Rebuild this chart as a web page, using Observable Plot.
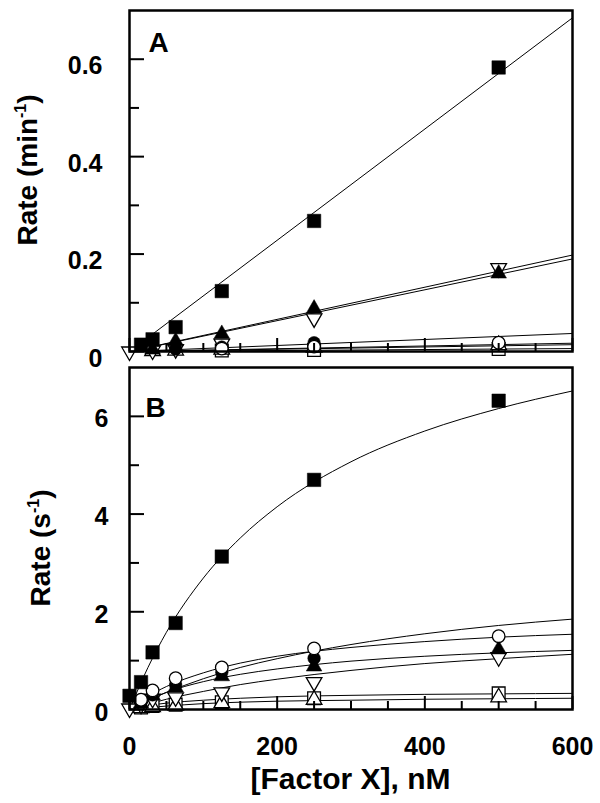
<!DOCTYPE html>
<html><head><meta charset="utf-8">
<script src="https://cdn.jsdelivr.net/npm/d3@7"></script>
<script src="https://cdn.jsdelivr.net/npm/@observablehq/plot@0.6"></script>
<style>
body{margin:0;background:#fff;}
#chart{position:relative;width:600px;height:803px;background:#fff;}
#chart svg{display:block;position:absolute;left:0;}
</style></head><body><div id="chart"></div>
<script>
// ---------- Panel A data (rate, min^-1) ----------
const A_filledSquare_x = [15.6, 31.25, 62.5, 125, 250, 500];
const A_filledSquare_y = [0.014, 0.025, 0.050, 0.124, 0.268, 0.583];
const A_filledTri_x = [31.25, 62.5, 125, 250, 500];
const A_filledTri_y = [0.004, 0.021, 0.036, 0.088, 0.160];
const A_openTriDown_x = [0, 31.25, 62.5, 125, 250, 500];
const A_openTriDown_y = [0.0, 0.002, 0.005, 0.016, 0.068, 0.171];
const A_filledCircle_x = [62.5, 125, 250];
const A_filledCircle_y = [0.005, 0.009, 0.018];
const A_openCircle_x = [125, 250, 500];
const A_openCircle_y = [0.006, 0.010, 0.018];
const A_openTriUp_x = [31.25, 62.5, 125, 250, 500];
const A_openTriUp_y = [0.001, 0.002, 0.004, 0.008, 0.013];
const A_openSquare_x = [125, 250, 500];
const A_openSquare_y = [0.002, 0.003, 0.005];

// fitted straight lines (read at x = 0 and x = 600)
const A_fit_x = [0, 600];
const A_fit_filledSquare = [0, 0.685];
const A_fit_filledTri = [0, 0.190];
const A_fit_openTriDown = [0, 0.198];
const A_fit_filledCircle = [0, 0.037];
const A_fit_openCircle = [0, 0.017];
const A_fit_openTriUp = [0, 0.014];
const A_fit_openSquare = [0, 0.006];

// ---------- Panel B data (rate, s^-1) ----------
const B_filledSquare_x = [0, 15.6, 31.25, 62.5, 125, 250, 500];
const B_filledSquare_y = [0.28, 0.56, 1.17, 1.77, 3.13, 4.70, 6.32];
const B_openCircle_x = [15.6, 31.25, 62.5, 125, 250, 500];
const B_openCircle_y = [0.20, 0.39, 0.64, 0.86, 1.25, 1.50];
const B_filledCircle_x = [31.25, 62.5, 125, 250];
const B_filledCircle_y = [0.30, 0.50, 0.76, 1.05];
const B_filledTri_x = [15.6, 31.25, 62.5, 125, 250, 500];
const B_filledTri_y = [0.12, 0.29, 0.45, 0.68, 0.88, 1.23];
const B_openTriDown_x = [0, 15.6, 31.25, 62.5, 125, 250, 500];
const B_openTriDown_y = [0.02, 0.10, 0.22, 0.25, 0.35, 0.56, 1.07];
const B_openSquare_x = [15.6, 31.25, 62.5, 125, 250, 500];
const B_openSquare_y = [0.04, 0.07, 0.10, 0.15, 0.23, 0.33];
const B_openTriUp_x = [15.6, 31.25, 62.5, 125, 250, 500];
const B_openTriUp_y = [0.03, 0.05, 0.08, 0.13, 0.20, 0.25];

// fitted curves at these x values
const B_fit_x = [0, 25, 50, 100, 150, 200, 300, 400, 500, 600];
const B_fit_filledSquare = [0, 0.86, 1.58, 2.69, 3.51, 4.15, 5.07, 5.70, 6.16, 6.52];
const B_fit_filledCircle = [0, 0.19, 0.35, 0.63, 0.86, 1.04, 1.33, 1.55, 1.72, 1.85];
const B_fit_openCircle = [0, 0.27, 0.47, 0.75, 0.95, 1.09, 1.27, 1.39, 1.48, 1.54];
const B_fit_filledTri = [0, 0.19, 0.35, 0.57, 0.72, 0.83, 0.99, 1.09, 1.16, 1.21];
const B_fit_openTriDown = [0, 0.11, 0.21, 0.37, 0.51, 0.62, 0.80, 0.94, 1.04, 1.13];
const B_fit_openSquare = [0, 0.08, 0.13, 0.19, 0.23, 0.26, 0.29, 0.31, 0.32, 0.33];
const B_fit_openTriUp = [0, 0.04, 0.07, 0.12, 0.15, 0.17, 0.19, 0.21, 0.22, 0.23];

// ---------- ticks ----------
const xMajorTicks = [0, 200, 400, 600];
const xMinorTicks = [50, 100, 150, 250, 300, 350, 450, 500, 550];
const xTickLabels = ["0", "200", "400", "600"];
const yA_major = [0, 0.2, 0.4, 0.6];
const yA_minor = [0.1, 0.3, 0.5];
const yA_labels = ["0", "0.2", "0.4", "0.6"];
const yB_major = [0, 2, 4, 6];
const yB_minor = [1, 3, 5];
const yB_labels = ["0", "2", "4", "6"];

// ---------- helpers ----------
const triDown = {
  draw(ctx, size) {
    const y = Math.sqrt(size / (3 * Math.sqrt(3)));
    ctx.moveTo(0, 2 * y);
    ctx.lineTo(-Math.sqrt(3) * y, -y);
    ctx.lineTo(Math.sqrt(3) * y, -y);
    ctx.closePath();
  }
};
const zip = (xs, ys) => xs.map((x, i) => ({x, y: ys[i]}));
const styles = {
  openSquare:   {symbol: "square", r: 7.2, fill: "white", stroke: "black", strokeWidth: 1.3},
  openTriUp:    {symbol: "triangle", r: 5.8, fill: "white", stroke: "black", strokeWidth: 1.3},
  openTriDown:  {symbol: triDown, r: 5.8, fill: "white", stroke: "black", strokeWidth: 1.3},
  filledTri:    {symbol: "triangle", r: 5.8, fill: "black", stroke: "black", strokeWidth: 0.5},
  filledCircle: {symbol: "circle", r: 6.3, fill: "black", stroke: "black", strokeWidth: 0.5},
  openCircle:   {symbol: "circle", r: 6.3, fill: "white", stroke: "black", strokeWidth: 1.3},
  filledSquare: {symbol: "square", r: 7.6, fill: "black", stroke: "black", strokeWidth: 0.5}
};
const order = ["openSquare", "openTriUp", "openTriDown", "filledTri", "filledCircle", "openCircle", "filledSquare"];
const FONT = "'Liberation Sans', Arial, Helvetica, sans-serif";

function axisMarks(yMajor, yMinor, yLabels, labelDy, yPad, showX) {
  const m = [
    Plot.axisY(yMajor, {tickSize: -15, strokeWidth: 2, tickFormat: () => "", label: null}),
    Plot.axisY(yMinor, {tickSize: -10, strokeWidth: 2, tickFormat: () => "", label: null}),
    Plot.axisY(yMajor, {tickSize: 0, tickPadding: yPad, dy: labelDy, label: null,
      tickFormat: (d, i) => yLabels[i], fontSize: 25, fontWeight: "bold", fill: "black"}),
    Plot.axisX(xMajorTicks, {tickSize: -13, strokeWidth: 2, tickFormat: () => "", label: null}),
    Plot.axisX(xMinorTicks, {tickSize: -8, strokeWidth: 2, tickFormat: () => "", label: null})
  ];
  if (showX) m.push(Plot.axisX(xMajorTicks, {tickSize: 0, tickPadding: 28, label: null,
      tickFormat: (d, i) => xTickLabels[i], fontSize: 25, fontWeight: "bold", fill: "black"}));
  return m;
}

function panel({fitX, fits, points, yDomain, height, marginTop, marginBottom, yMajor, yMinor, yLabels, labelDy, yPad, showX, letter, letterDx, letterDy, background}) {
  const marks = [];
  for (const k of order) {
    if (fits[k]) marks.push(Plot.line(zip(fitX, fits[k]), {x: "x", y: "y", stroke: "black", strokeWidth: 1, curve: "monotone-x"}));
  }
  for (const k of order) {
    if (points[k]) marks.push(Plot.dot(zip(points[k][0], points[k][1]), {x: "x", y: "y", ...styles[k]}));
  }
  marks.push(...axisMarks(yMajor, yMinor, yLabels, labelDy, yPad, showX));
  marks.push(Plot.frame({stroke: "black", strokeWidth: 2.5}));
  marks.push(Plot.text([letter], {text: d => d, frameAnchor: "top-left", textAnchor: "start", lineAnchor: "middle",
    dx: letterDx, dy: letterDy, fontSize: 28, fontWeight: "bold", fill: "black"}));
  return Plot.plot({
    width: 600, height,
    marginLeft: 129, marginRight: 28, marginTop, marginBottom,
    x: {domain: [0, 600]},
    y: {domain: yDomain},
    style: {fontFamily: FONT, background, color: "black"},
    marks
  });
}

// Panel A: frame from y=10 to y=351 (svg placed at top 0)
const plotA = panel({
  fitX: A_fit_x,
  fits: {filledSquare: A_fit_filledSquare, filledTri: A_fit_filledTri, openTriDown: A_fit_openTriDown,
         filledCircle: A_fit_filledCircle, openCircle: A_fit_openCircle, openTriUp: A_fit_openTriUp, openSquare: A_fit_openSquare},
  points: {filledSquare: [A_filledSquare_x, A_filledSquare_y], filledTri: [A_filledTri_x, A_filledTri_y],
           openTriDown: [A_openTriDown_x, A_openTriDown_y], filledCircle: [A_filledCircle_x, A_filledCircle_y],
           openCircle: [A_openCircle_x, A_openCircle_y], openTriUp: [A_openTriUp_x, A_openTriUp_y],
           openSquare: [A_openSquare_x, A_openSquare_y]},
  yDomain: [0, 0.7], height: 385, marginTop: 10, marginBottom: 34,
  yMajor: yA_major, yMinor: yA_minor, yLabels: yA_labels, labelDy: 7, yPad: 27, showX: false,
  letter: "A", letterDx: 19, letterDy: 33, background: "white"
});

// Panel B: svg placed at top 360, frame from y=367 to y=709
const plotB = panel({
  fitX: B_fit_x,
  fits: {filledSquare: B_fit_filledSquare, filledTri: B_fit_filledTri, openTriDown: B_fit_openTriDown,
         filledCircle: B_fit_filledCircle, openCircle: B_fit_openCircle, openTriUp: B_fit_openTriUp, openSquare: B_fit_openSquare},
  points: {filledSquare: [B_filledSquare_x, B_filledSquare_y], filledTri: [B_filledTri_x, B_filledTri_y],
           openTriDown: [B_openTriDown_x, B_openTriDown_y], filledCircle: [B_filledCircle_x, B_filledCircle_y],
           openCircle: [B_openCircle_x, B_openCircle_y], openTriUp: [B_openTriUp_x, B_openTriUp_y],
           openSquare: [B_openSquare_x, B_openSquare_y]},
  yDomain: [0, 7], height: 443, marginTop: 7, marginBottom: 94,
  yMajor: yB_major, yMinor: yB_minor, yLabels: yB_labels, labelDy: 3, yPad: 21, showX: true,
  letter: "B", letterDx: 16, letterDy: 41, background: "none"
});

const chart = document.getElementById("chart");
plotA.style.top = "0px";
plotB.style.top = "360px";
chart.appendChild(plotA);
chart.appendChild(plotB);

function yTitle(svg, cx, cy, main, sup) {
  const t = d3.select(svg).append("text")
    .attr("transform", `translate(${cx},${cy}) rotate(-90)`)
    .attr("text-anchor", "middle").attr("dy", "0.35em")
    .attr("font-family", FONT).attr("font-weight", "bold").attr("font-size", 28).attr("fill", "black");
  t.append("tspan").text(main);
  t.append("tspan").attr("font-size", 16).attr("dy", -11).text(sup);
  t.append("tspan").attr("dy", 11).text(")");
}
yTitle(plotA, 27, 170, "Rate (min", "-1");
yTitle(plotB, 40, 188, "Rate (s", "-1");

d3.select(plotB).append("text")
  .attr("x", 350.5).attr("y", 429).attr("text-anchor", "middle")
  .attr("font-family", FONT).attr("font-weight", "bold").attr("font-size", 30).attr("fill", "black")
  .text("[Factor X], nM");
</script></body></html>
